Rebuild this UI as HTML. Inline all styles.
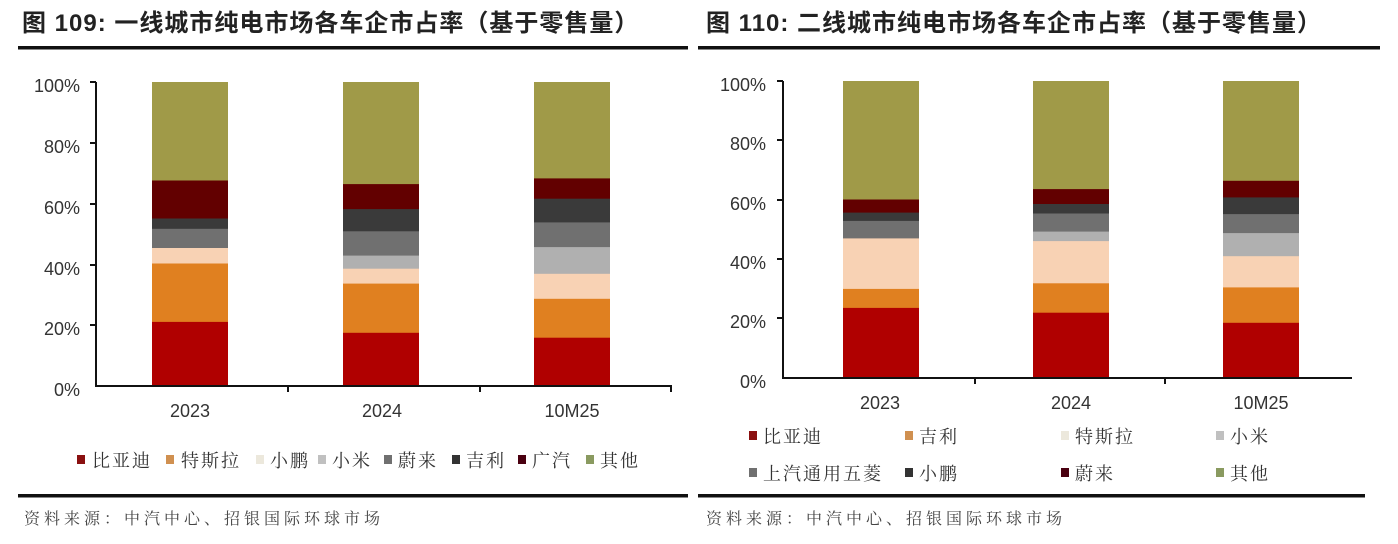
<!DOCTYPE html>
<html><head><meta charset="utf-8"><style>
body{margin:0;background:#fff;}
svg{display:block;font-family:"Liberation Sans","Noto Sans CJK SC",sans-serif;}
.t{font-size:24px;font-weight:bold;fill:#222;letter-spacing:1px;}
.ax{font-size:18px;fill:#333;}
.lg{font-size:18px;fill:#333;letter-spacing:2px;font-family:"Noto Serif CJK SC","Noto Sans CJK SC",serif;}
.src{font-size:16px;fill:#444;letter-spacing:4px;font-family:"Noto Serif CJK SC","Noto Sans CJK SC",serif;}
</style></head><body>
<svg width="1398" height="544" viewBox="0 0 1398 544">
<text class="t" x="22" y="31">图 109: 一线城市纯电市场各车企市占率（基于零售量）</text>
<rect x="18" y="46" width="670" height="3.5" fill="#111"/>
<text class="t" x="706" y="31">图 110: 二线城市纯电市场各车企市占率（基于零售量）</text>
<rect x="698" y="46" width="682" height="3.5" fill="#111"/>

<g class="ax" text-anchor="end">
<text x="80" y="92">100%</text><text x="80" y="153">80%</text><text x="80" y="214">60%</text><text x="80" y="275">40%</text><text x="80" y="335">20%</text><text x="80" y="396">0%</text>
</g>
<g>
<rect x="152" y="82" width="76" height="304" fill="#a09a48"/>
<rect x="152" y="180.5" width="76" height="205.5" fill="#620000"/>
<rect x="152" y="218.5" width="76" height="167.5" fill="#3a3a3a"/>
<rect x="152" y="228.8" width="76" height="157.2" fill="#707070"/>
<rect x="152" y="248" width="76" height="138" fill="#f8d2b4"/>
<rect x="152" y="263.5" width="76" height="122.5" fill="#e08020"/>
<rect x="152" y="321.9" width="76" height="64.1" fill="#b00000"/>
<rect x="343" y="82" width="76" height="304" fill="#a09a48"/>
<rect x="343" y="184.1" width="76" height="201.9" fill="#620000"/>
<rect x="343" y="209.1" width="76" height="176.9" fill="#3a3a3a"/>
<rect x="343" y="231.3" width="76" height="154.7" fill="#707070"/>
<rect x="343" y="255.6" width="76" height="130.4" fill="#b0b0b0"/>
<rect x="343" y="268.7" width="76" height="117.3" fill="#f8d2b4"/>
<rect x="343" y="283.6" width="76" height="102.4" fill="#e08020"/>
<rect x="343" y="332.8" width="76" height="53.2" fill="#b00000"/>
<rect x="534" y="82" width="76" height="304" fill="#a09a48"/>
<rect x="534" y="178.4" width="76" height="207.6" fill="#620000"/>
<rect x="534" y="198.7" width="76" height="187.3" fill="#3a3a3a"/>
<rect x="534" y="222.4" width="76" height="163.6" fill="#707070"/>
<rect x="534" y="247.1" width="76" height="138.9" fill="#b0b0b0"/>
<rect x="534" y="273.8" width="76" height="112.2" fill="#f8d2b4"/>
<rect x="534" y="298.8" width="76" height="87.2" fill="#e08020"/>
<rect x="534" y="337.7" width="76" height="48.3" fill="#b00000"/>
</g>
<g stroke="#111" stroke-width="2">
<line x1="96" y1="82" x2="96" y2="387"/>
<line x1="95" y1="386" x2="672" y2="386"/>
<line x1="90" y1="82" x2="96" y2="82"/><line x1="90" y1="143" x2="96" y2="143"/><line x1="90" y1="204" x2="96" y2="204"/><line x1="90" y1="265" x2="96" y2="265"/><line x1="90" y1="325" x2="96" y2="325"/>
<line x1="288" y1="386" x2="288" y2="392"/><line x1="480" y1="386" x2="480" y2="392"/><line x1="671" y1="386" x2="671" y2="392"/>
</g>
<g class="ax" text-anchor="middle">
<text x="190" y="417">2023</text><text x="382" y="417">2024</text><text x="572" y="417">10M25</text>
</g>
<g class="lg">
<rect x="77" y="455" width="8" height="9" fill="#8a1010"/><text x="92" y="467">比亚迪</text>
<rect x="166" y="455" width="8" height="9" fill="#d09050"/><text x="181" y="467">特斯拉</text>
<rect x="256" y="455" width="8" height="9" fill="#ece8dc"/><text x="270" y="467">小鹏</text>
<rect x="318" y="455" width="8" height="9" fill="#c0c0c0"/><text x="332" y="467">小米</text>
<rect x="384" y="455" width="8" height="9" fill="#707070"/><text x="398" y="467">蔚来</text>
<rect x="452" y="455" width="8" height="9" fill="#333"/><text x="466" y="467">吉利</text>
<rect x="518" y="455" width="8" height="9" fill="#4a0010"/><text x="532" y="467">广汽</text>
<rect x="586" y="455" width="8" height="9" fill="#8a9a60"/><text x="600" y="467">其他</text>
</g>
<rect x="18" y="494" width="670" height="3.5" fill="#111"/>
<text class="src" x="24" y="524">资料来源：中汽中心、招银国际环球市场</text>

<g class="ax" text-anchor="end">
<text x="766" y="91">100%</text><text x="766" y="150">80%</text><text x="766" y="210">60%</text><text x="766" y="269">40%</text><text x="766" y="328">20%</text><text x="766" y="388">0%</text>
</g>
<g>
<rect x="843" y="81" width="76" height="297" fill="#a09a48"/>
<rect x="843" y="199.5" width="76" height="178.5" fill="#620000"/>
<rect x="843" y="212.6" width="76" height="165.4" fill="#3a3a3a"/>
<rect x="843" y="220.9" width="76" height="157.1" fill="#707070"/>
<rect x="843" y="238.4" width="76" height="139.6" fill="#f8d2b4"/>
<rect x="843" y="288.9" width="76" height="89.1" fill="#e08020"/>
<rect x="843" y="307.9" width="76" height="70.1" fill="#b00000"/>
<rect x="1033" y="81" width="76" height="297" fill="#a09a48"/>
<rect x="1033" y="189.1" width="76" height="188.9" fill="#620000"/>
<rect x="1033" y="204" width="76" height="174" fill="#3a3a3a"/>
<rect x="1033" y="213.5" width="76" height="164.5" fill="#707070"/>
<rect x="1033" y="231.6" width="76" height="146.4" fill="#b0b0b0"/>
<rect x="1033" y="241.1" width="76" height="136.9" fill="#f8d2b4"/>
<rect x="1033" y="283.3" width="76" height="94.7" fill="#e08020"/>
<rect x="1033" y="312.7" width="76" height="65.3" fill="#b00000"/>
<rect x="1223" y="81" width="76" height="297" fill="#a09a48"/>
<rect x="1223" y="180.8" width="76" height="197.2" fill="#620000"/>
<rect x="1223" y="197.4" width="76" height="180.6" fill="#3a3a3a"/>
<rect x="1223" y="214.1" width="76" height="163.9" fill="#707070"/>
<rect x="1223" y="233.1" width="76" height="144.9" fill="#b0b0b0"/>
<rect x="1223" y="256.2" width="76" height="121.8" fill="#f8d2b4"/>
<rect x="1223" y="287.4" width="76" height="90.6" fill="#e08020"/>
<rect x="1223" y="322.8" width="76" height="55.2" fill="#b00000"/>
</g>
<g stroke="#111" stroke-width="2">
<line x1="783" y1="81" x2="783" y2="379"/>
<line x1="782" y1="378" x2="1352" y2="378"/>
<line x1="777" y1="81" x2="783" y2="81"/><line x1="777" y1="140" x2="783" y2="140"/><line x1="777" y1="200" x2="783" y2="200"/><line x1="777" y1="259" x2="783" y2="259"/><line x1="777" y1="318" x2="783" y2="318"/>
<line x1="975" y1="378" x2="975" y2="384"/><line x1="1165" y1="378" x2="1165" y2="384"/>
</g>
<g class="ax" text-anchor="middle">
<text x="880" y="409">2023</text><text x="1071" y="409">2024</text><text x="1261" y="409">10M25</text>
</g>
<g class="lg">
<rect x="749" y="431" width="8" height="9" fill="#8a1010"/><text x="763" y="443">比亚迪</text>
<rect x="905" y="431" width="8" height="9" fill="#d09050"/><text x="919" y="443">吉利</text>
<rect x="1061" y="431" width="8" height="9" fill="#ece8dc"/><text x="1075" y="443">特斯拉</text>
<rect x="1216" y="431" width="8" height="9" fill="#c0c0c0"/><text x="1230" y="443">小米</text>
<rect x="749" y="468" width="8" height="9" fill="#707070"/><text x="763" y="480">上汽通用五菱</text>
<rect x="905" y="468" width="8" height="9" fill="#333"/><text x="919" y="480">小鹏</text>
<rect x="1061" y="468" width="8" height="9" fill="#4a0010"/><text x="1075" y="480">蔚来</text>
<rect x="1216" y="468" width="8" height="9" fill="#8a9a60"/><text x="1230" y="480">其他</text>
</g>
<rect x="698" y="494" width="667" height="3.5" fill="#111"/>
<text class="src" x="706" y="524">资料来源：中汽中心、招银国际环球市场</text>
</svg>
</body></html>
